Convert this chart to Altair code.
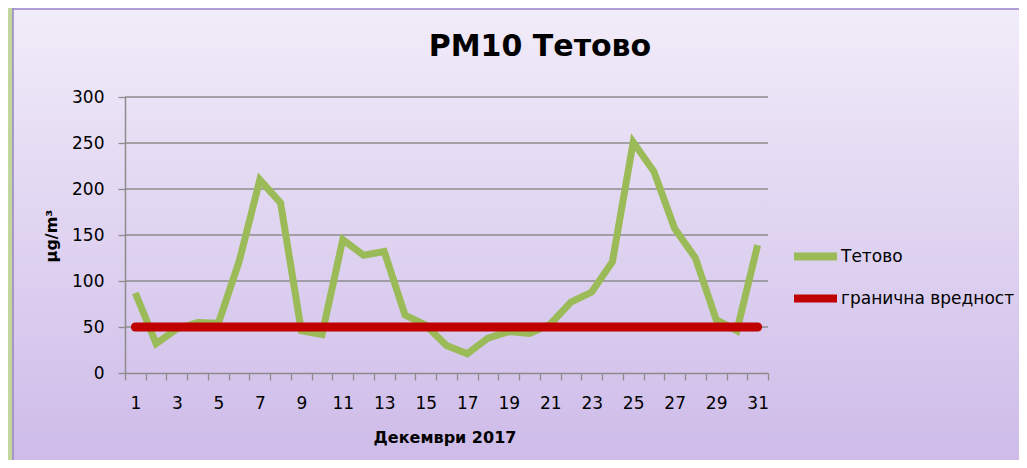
import altair as alt
import pandas as pd

# ---- data ----
days = list(range(1, 32))
tetovo = [87, 32, 48, 55, 54, 121, 210, 185, 46, 42, 145, 128, 132, 63, 52, 30,
          21, 38, 45, 43, 53, 77, 88, 121, 251, 219, 157, 125, 58, 46, 139]
limit_days = [1, 31]
limit_vals = [50, 50]
series_names = ["Тетово", "гранична вредност"]
series_colors = ["#9BBB59", "#C00000"]
y_ticks = [0, 50, 100, 150, 200, 250, 300]
grid_values = [50, 100, 150, 200, 250, 300]
title_text = "PM10 Тетово"
x_title = "Декември 2017"
y_title = "µg/m³"

FONT = "DejaVu Sans"
W, H = 643, 276

df_main = pd.DataFrame({"day": days, "value": tetovo, "series": series_names[0]})
df_lim = pd.DataFrame({"day": limit_days, "value": limit_vals, "series": series_names[1]})
df_grid = pd.DataFrame({"g": grid_values})
df_one = pd.DataFrame({"a": [0]})

x_enc = alt.X(
    "day:O",
    bandPosition=0.5,
    scale=alt.Scale(type="band", paddingInner=0, paddingOuter=0, domain=days),
    axis=alt.Axis(
        title=None, labelAngle=0, tickBand="extent", tickSize=7,
        labelExpr="datum.value % 2 == 1 ? datum.label : ''",
        labelFontSize=17, labelPadding=15, labelColor="#000000",
        domainColor="#8C8C8C", tickColor="#8C8C8C", domainWidth=1.5, tickWidth=1.3,
        grid=False, zindex=1, labelFont=FONT,
    ),
)
y_enc = alt.Y(
    "value:Q",
    scale=alt.Scale(domain=[0, 300], nice=False),
    axis=alt.Axis(
        title=None, values=y_ticks, tickSize=7, labelFontSize=17, labelPadding=14,
        labelColor="#000000", domainColor="#8C8C8C", tickColor="#8C8C8C",
        domainWidth=1.5, tickWidth=1.3, grid=False, zindex=1, labelFont=FONT,
    ),
)
color_enc = alt.Color(
    "series:N",
    scale=alt.Scale(domain=series_names, range=series_colors),
    legend=alt.Legend(
        title=None, orient="none", legendX=665, legendY=134,
        symbolType="stroke", symbolSize=1849, symbolStrokeWidth=8,
        labelFontSize=17, labelOffset=0, rowPadding=0, padding=0,
        labelLimit=300, labelColor="#000000", labelFont=FONT,
    ),
)

bg = alt.Chart(df_one).mark_rect(
    fill=alt.Gradient(
        gradient="linear", x1=0, x2=0, y1=0, y2=1,
        stops=[alt.GradientStop(color="#F1ECF9", offset=0),
               alt.GradientStop(color="#C8B3E6", offset=1)],
    ),
).encode(x=alt.value(-112), x2=alt.value(960), y=alt.value(-89), y2=alt.value(440))

border_left = alt.Chart(df_one).mark_rule(color="#9A84C8", strokeWidth=1.5).encode(
    x=alt.value(-112), y=alt.value(-89), y2=alt.value(440))
border_top = alt.Chart(df_one).mark_rule(color="#9A84C8", strokeWidth=1.5).encode(
    x=alt.value(-112), x2=alt.value(960), y=alt.value(-88))

grid = alt.Chart(df_grid).mark_rule(color="#8C8C8C", strokeWidth=1.3).encode(
    y=alt.Y("g:Q", scale=alt.Scale(domain=[0, 300], nice=False))
)

title = alt.Chart(pd.DataFrame({"t": [title_text]})).mark_text(
    font=FONT, fontSize=30, fontWeight="bold", color="#000000", align="center", baseline="middle"
).encode(text="t:N", x=alt.value(415), y=alt.value(-50))

xt = alt.Chart(pd.DataFrame({"t": [x_title]})).mark_text(
    font=FONT, fontSize=16, fontWeight="bold", color="#000000", align="center", baseline="middle"
).encode(text="t:N", x=alt.value(320), y=alt.value(341))

yt = alt.Chart(pd.DataFrame({"t": [y_title]})).mark_text(
    font=FONT, fontSize=16, fontWeight="bold", color="#000000", align="center",
    baseline="middle", angle=270
).encode(text="t:N", x=alt.value(-73), y=alt.value(139))

green = alt.Chart(df_main).mark_line(strokeWidth=7).encode(x=x_enc, y=y_enc, color=color_enc)
red = alt.Chart(df_lim).mark_line(strokeWidth=9, strokeCap="round").encode(
    x=x_enc, y=y_enc, color=color_enc)

chart = alt.layer(bg, border_left, border_top, grid, title, xt, yt, green, red).properties(
    width=W, height=H,
    autosize=alt.AutoSizeParams(type="none"),
    padding={"left": 117, "top": 89, "right": 251, "bottom": 87},
    background="#C3D69B",
).configure_view(stroke=None)

chart.save("out.html", embed_options={"renderer": "svg", "actions": False})
